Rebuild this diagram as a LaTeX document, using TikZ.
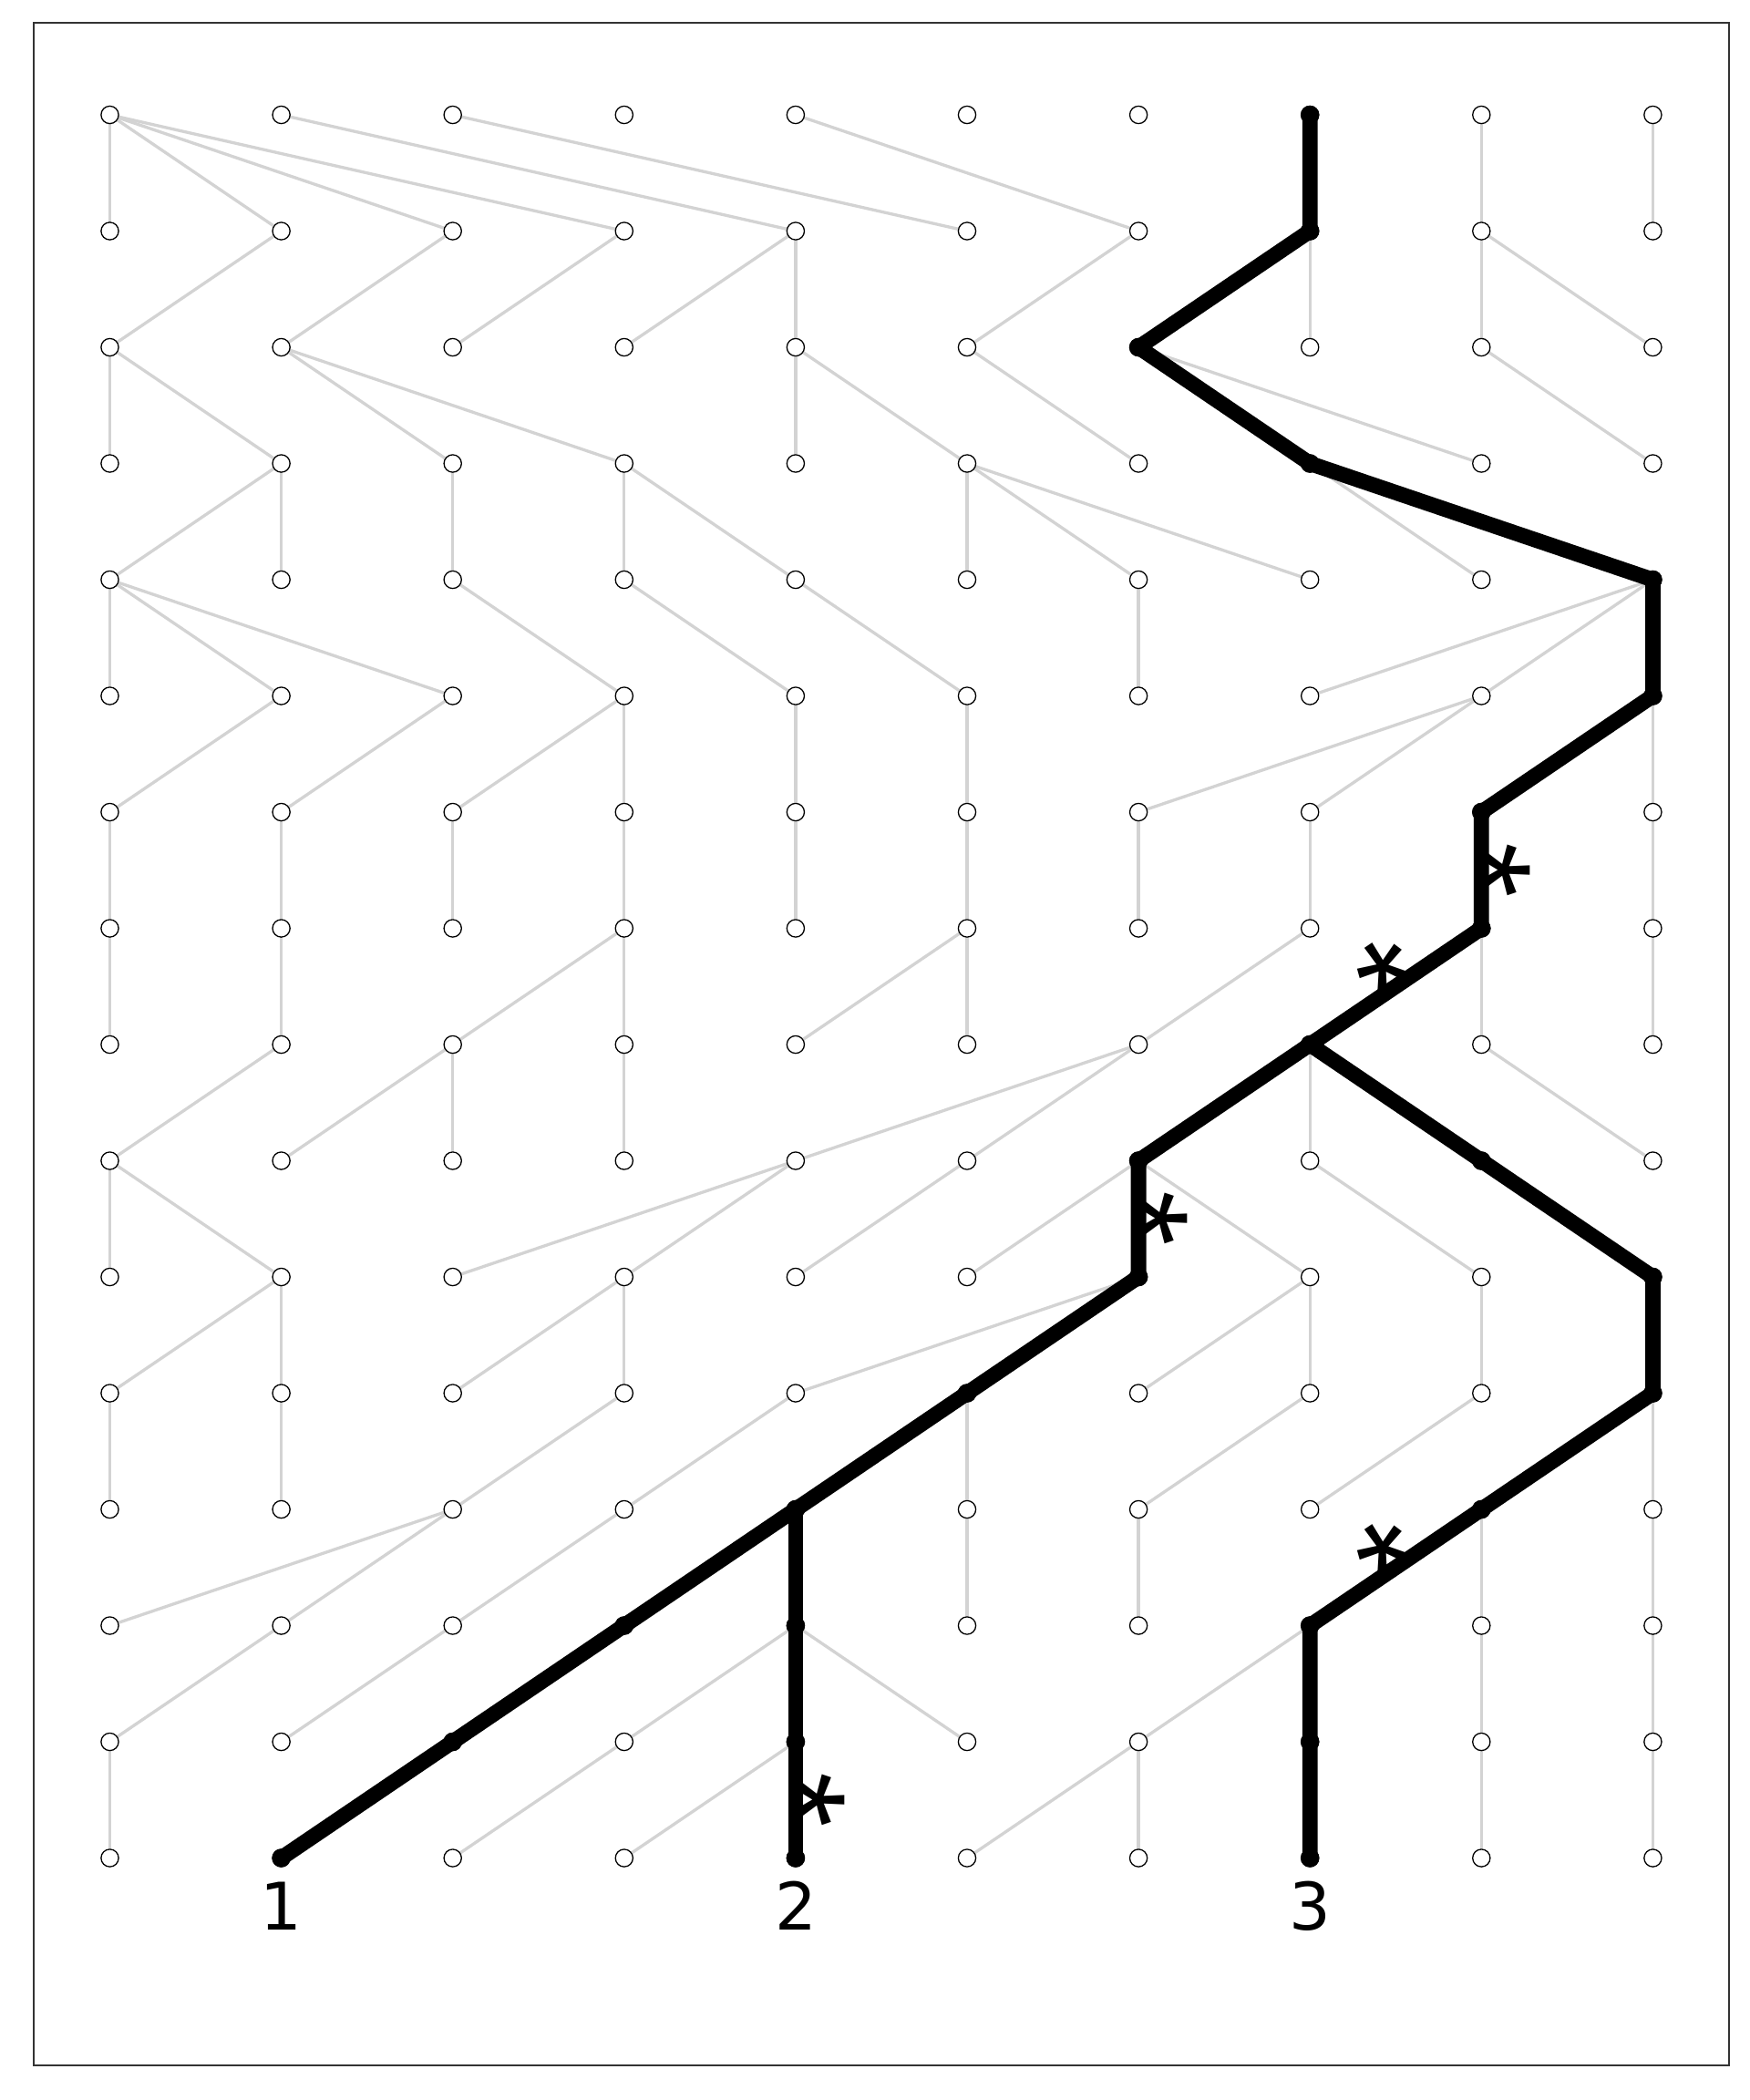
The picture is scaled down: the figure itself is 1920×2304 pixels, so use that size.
\documentclass[tikz,border=0pt]{standalone}
\usepackage{fontspec}
\setmainfont{DejaVu Sans}
\newfontfamily\starfont{Liberation Sans}
\usetikzlibrary{calc,backgrounds}
\definecolor{lgray}{HTML}{D3D3D3}
\definecolor{framegray}{HTML}{333333}
\begin{document}
\begin{tikzpicture}[x=0.5pt,y=-0.5pt,
  gnode/.style={circle,draw=black,fill=white,line width=0.65pt,minimum size=9.6pt,inner sep=0pt},
  gline/.style={draw=lgray,line width=1.65pt},
  lineage/.style={draw=black,line width=8.4pt,line cap=round,line join=round},
  framebox/.style={draw=framegray,line width=1pt},
  lab/.style={font=\fontsize{36}{36}\selectfont,inner sep=0pt,anchor=center},
  mut/.style={font=\starfont\fontsize{78}{78}\selectfont,inner sep=0pt,anchor=center}]
\useasboundingbox (0,0) rectangle (1920,2304);
% grid of individuals
\foreach \r in {0,...,15}{
  \foreach \c in {0,...,9}{
    \node[gnode] (n-\c-\r) at ({120.5+188.1*\c},{126+127.5*\r}) {};
  }
}
\begin{pgfonlayer}{background}
\fill[white] (0,0) rectangle (1920,2304);
\foreach \r/\pl in {
  1/{0,0,0,0,1,2,4,7,8,9},
  2/{1,2,3,4,4,6,7,7,8,8},
  3/{0,0,1,1,4,4,5,6,6,8},
  4/{1,1,2,3,3,5,5,5,7,7},
  5/{0,0,0,2,3,4,6,9,9,9},
  6/{1,2,3,3,4,5,8,8,9,9},
  7/{0,1,2,3,4,5,6,7,8,9},
  8/{0,1,3,3,5,5,7,8,8,9},
  9/{1,2,2,3,6,6,7,7,7,8},
  10/{0,0,4,4,5,6,6,6,7,8},
  11/{1,1,3,3,6,6,7,7,8,9},
  12/{0,1,3,4,5,5,7,8,9,9},
  13/{2,2,3,4,4,5,6,8,8,9},
  14/{1,2,3,4,4,4,7,7,8,9},
  15/{0,2,3,4,4,6,6,7,8,9}}{
  \pgfmathtruncatemacro{\q}{\r-1}
  \foreach \p [count=\c from 0] in \pl {
    \draw[gline] (n-\p-\q.center) -- (n-\c-\r.center);
  }
}
\end{pgfonlayer}
% frame
\draw[framebox] (36.7,25) rectangle (1897,2266);
% sampled lineages
\draw[lineage] (n-1-15.center) -- (n-2-14.center) -- (n-3-13.center) -- (n-4-12.center)
  -- (n-5-11.center) -- (n-6-10.center) -- (n-6-9.center) -- (n-7-8.center)
  -- (n-8-7.center) -- (n-8-6.center) -- (n-9-5.center) -- (n-9-4.center)
  -- (n-7-3.center) -- (n-6-2.center) -- (n-7-1.center) -- (n-7-0.center);
\draw[lineage] (n-4-15.center) -- (n-4-14.center) -- (n-4-13.center) -- (n-4-12.center);
\draw[lineage] (n-7-15.center) -- (n-7-14.center) -- (n-7-13.center) -- (n-8-12.center)
  -- (n-9-11.center) -- (n-9-10.center) -- (n-8-9.center) -- (n-7-8.center);
\foreach \c/\r in {1/15,2/14,3/13,4/12,5/11,6/10,6/9,7/8,8/7,8/6,9/5,9/4,7/3,6/2,7/1,7/0,
                   4/15,4/14,4/13,7/15,7/14,7/13,8/12,9/11,9/10,8/9}{
  \fill[black] (n-\c-\r.center) circle[radius=5.1pt];
}
% labels
\node[lab] (lab1) at ($(n-1-15.center)+(0,52.5)$) {1};
\node[lab] (lab2) at ($(n-4-15.center)+(0,52.5)$) {2};
\node[lab] (lab3) at ($(n-7-15.center)+(0,52.5)$) {3};
% mutations
\node[mut,rotate=-90] (m1) at ($(n-8-6.center)!0.5!(n-8-7.center)$) {*};
\node[mut,rotate=34.1] (m2) at ($(n-7-8.center)!0.5!(n-8-7.center)$) {*};
\node[mut,rotate=-90] (m3) at ($(n-6-9.center)!0.5!(n-6-10.center)$) {*};
\node[mut,rotate=34.1] (m4) at ($(n-7-13.center)!0.5!(n-8-12.center)$) {*};
\node[mut,rotate=-90] (m5) at ($(n-4-14.center)!0.5!(n-4-15.center)$) {*};
\end{tikzpicture}
\end{document}
